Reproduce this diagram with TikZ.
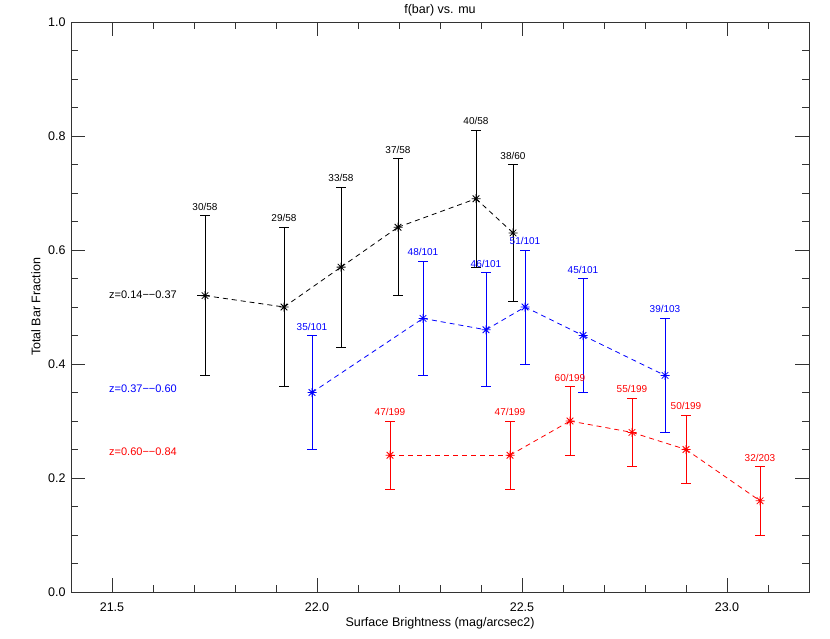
\documentclass[tikz,border=0pt]{standalone}
\usepackage{fontspec}
\setmainfont{Liberation Sans}
\begin{document}
\begin{tikzpicture}[x=1pt,y=-1pt,
  ax/.style={line width=0.9pt,black!80},
  dat/.style={line width=0.8pt},
  lab/.style={font=\fontsize{10}{11}\selectfont},
  tl/.style={font=\fontsize{12.5}{13}\selectfont}]
\useasboundingbox (0,0) rectangle (830,638);
% frame
\draw[ax] (71,22) rectangle (809,592);
% x ticks
\foreach \i in {0,...,18}{
  \pgfmathsetmacro\xx{71+41*\i}
  \pgfmathsetmacro\len{ifthenelse(mod(\i,5)==1,14,7)}
  \draw[ax] (\xx,592) -- ++(0,-\len);
  \draw[ax] (\xx,22) -- ++(0,\len);
}
\foreach \v/\t in {21.5/21.5,22.0/22.0,22.5/22.5,23.0/23.0}{
  \node[tl] at ({112+410*(\v-21.5)},607) {\t};
}
% y ticks
\foreach \i in {0,...,20}{
  \pgfmathsetmacro\yy{592-28.5*\i}
  \pgfmathsetmacro\len{ifthenelse(mod(\i,4)==0,14,7)}
  \draw[ax] (71,\yy) -- ++(\len,0);
  \draw[ax] (809,\yy) -- ++(-\len,0);
}
\foreach \v in {0.0,0.2,0.4,0.6,0.8,1.0}{
  \node[tl,anchor=east] at (69,{592-570*\v}) {\v};
}
\node[tl] at (440,10) {f(bar) vs. mu};
\node[tl] at (440,623) {Surface Brightness (mag/arcsec2)};
\node[tl,rotate=90] at (36,307) {Total Bar Fraction};
% data
\foreach \col/\data/\leg/\ly in {
 black/{205/0.52/0.38/0.66/30\slash58,284/0.50/0.36/0.64/29\slash58,341/0.57/0.43/0.71/33\slash58,398/0.64/0.52/0.76/37\slash58,476/0.69/0.57/0.81/40\slash58,513/0.63/0.51/0.75/38\slash60}/{z=0.14−−0.37}/295,
 blue/{312/0.35/0.25/0.45/35\slash101,423/0.48/0.38/0.58/48\slash101,486/0.46/0.36/0.56/46\slash101,525/0.50/0.40/0.60/51\slash101,583/0.45/0.35/0.55/45\slash101,665/0.38/0.28/0.48/39\slash103}/{z=0.37−−0.60}/389,
 red/{390/0.24/0.18/0.30/47\slash199,510/0.24/0.18/0.30/47\slash199,570/0.30/0.24/0.36/60\slash199,632/0.28/0.22/0.34/55\slash199,686/0.25/0.19/0.31/50\slash199,760/0.16/0.10/0.22/32\slash203}/{z=0.60−−0.84}/452}{
  \node[text=\col,anchor=west,inner sep=1pt,font=\fontsize{11}{12}\selectfont] at (108,\ly) {\leg};
  \foreach \x/\v/\lo/\hi/\t [remember=\x as \px (initially 0), remember=\v as \pv (initially 0)] in \data {
    \pgfmathsetmacro\yy{592-570*\v}
    \pgfmathsetmacro\ylo{592-570*\lo}
    \pgfmathsetmacro\yhi{592-570*\hi}
    \draw[dat,\col] (\x,\ylo) -- (\x,\yhi);
    \draw[dat,\col] (\x-5,\ylo) -- (\x+5,\ylo);
    \draw[dat,\col] (\x-5,\yhi) -- (\x+5,\yhi);
    \draw[dat,\col] (\x-4.5,\yy) -- (\x+4.5,\yy) (\x,\yy-4.5) -- (\x,\yy+4.5)
      (\x-3.3,\yy-3.3) -- (\x+3.3,\yy+3.3) (\x-3.3,\yy+3.3) -- (\x+3.3,\yy-3.3);
    \node[lab,text=\col] at (\x,\yhi-9) {\t};
    \ifdim\pv pt>0pt
      \draw[dat,\col,dash pattern=on 5pt off 4pt] (\px,{592-570*\pv}) -- (\x,\yy);
    \fi
  }
}
\draw[dat,black,dash pattern=on 5pt off 4pt] (197,295) -- (205,295);
\end{tikzpicture}
\end{document}
